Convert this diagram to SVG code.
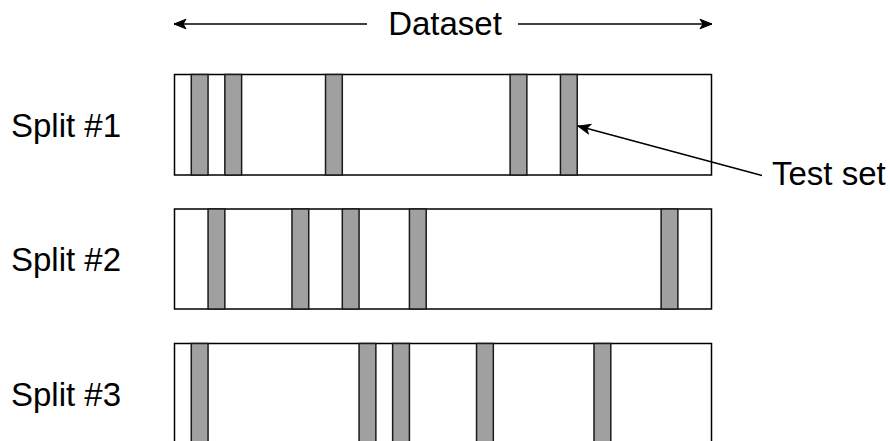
<svg xmlns="http://www.w3.org/2000/svg" width="890" height="441" viewBox="0 0 890 441">
  <style>
    .label { font-family: "Liberation Sans", Arial, Helvetica, sans-serif; font-size: 33px; fill: #000; }
    .band { fill: #ffffff; stroke: #000; stroke-width: 1.5; }
    .fold { fill: #a0a0a0; stroke: #1a1a1a; stroke-width: 1.5; }
    .conn { fill: none; stroke: #000; stroke-width: 1.5; }
  </style>
  <defs>
    <marker id="arrow" markerUnits="userSpaceOnUse" markerWidth="14" markerHeight="12" refX="13" refY="6" orient="auto" viewBox="0 0 14 12">
      <path d="M13,6 L1,1.2 L4,6 L1,10.8 Z" fill="#000" stroke="#000" stroke-width="1" stroke-linejoin="miter"/>
    </marker>
  </defs>

  <rect width="890" height="441" fill="#ffffff"/>

  <!-- Dataset span -->
  <g id="dataset-label">
    <text class="label" x="445" y="35" text-anchor="middle">Dataset</text>
  </g>

  <!-- Split rows: each band has 32 slots of 16.78 px, grey slots are the test folds -->
  <g id="split-1">
    <text class="label" x="11" y="136.5">Split #1</text>
    <rect class="band" x="174.5" y="74.5" width="537" height="100.5"/>
    <rect class="fold" x="191.28" y="74.5" width="16.78" height="100.5"/>
    <rect class="fold" x="224.84" y="74.5" width="16.78" height="100.5"/>
    <rect class="fold" x="325.52" y="74.5" width="16.78" height="100.5"/>
    <rect class="fold" x="510.1" y="74.5" width="16.78" height="100.5"/>
    <rect class="fold" x="560.44" y="74.5" width="16.78" height="100.5"/>
  </g>

  <g id="split-2">
    <text class="label" x="11" y="271">Split #2</text>
    <rect class="band" x="174.5" y="209" width="537" height="100"/>
    <rect class="fold" x="208.06" y="209" width="16.78" height="100"/>
    <rect class="fold" x="291.96" y="209" width="16.78" height="100"/>
    <rect class="fold" x="342.3" y="209" width="16.78" height="100"/>
    <rect class="fold" x="409.42" y="209" width="16.78" height="100"/>
    <rect class="fold" x="661.12" y="209" width="16.78" height="100"/>
  </g>

  <g id="split-3">
    <text class="label" x="11" y="405.5">Split #3</text>
    <rect class="band" x="174.5" y="343.5" width="537" height="100.5"/>
    <rect class="fold" x="191.28" y="343.5" width="16.78" height="100.5"/>
    <rect class="fold" x="359.08" y="343.5" width="16.78" height="100.5"/>
    <rect class="fold" x="392.64" y="343.5" width="16.78" height="100.5"/>
    <rect class="fold" x="476.54" y="343.5" width="16.78" height="100.5"/>
    <rect class="fold" x="594.0" y="343.5" width="16.78" height="100.5"/>
  </g>

  <g id="test-set-label">
    <text class="label" x="772" y="185">Test set</text>
  </g>

  <!-- Connectors -->
  <g id="connectors">
    <line class="conn" x1="367" y1="24" x2="174" y2="24" marker-end="url(#arrow)"/>
    <line class="conn" x1="518" y1="24" x2="712" y2="24" marker-end="url(#arrow)"/>
    <line class="conn" x1="762" y1="175.5" x2="578" y2="126" marker-end="url(#arrow)"/>
  </g>
</svg>
